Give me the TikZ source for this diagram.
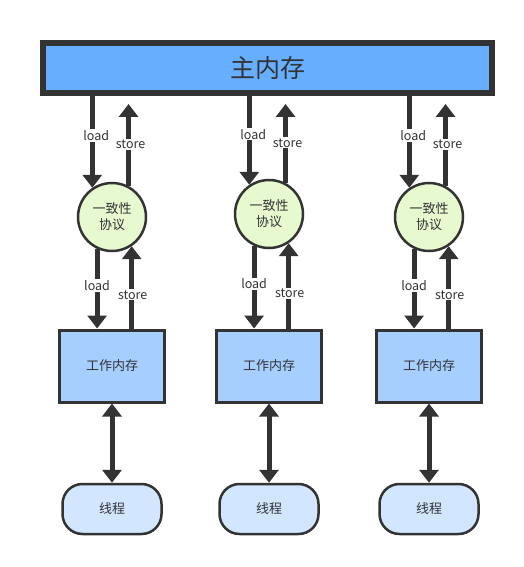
\documentclass[tikz,border=0pt]{standalone}
\usepackage{fontspec}
\setmainfont{Noto Sans CJK SC}
\usetikzlibrary{arrows.meta}

\definecolor{memblue}{HTML}{66AEFF}
\definecolor{workblue}{HTML}{A6CEFF}
\definecolor{threadblue}{HTML}{D2E7FF}
\definecolor{protogreen}{HTML}{E6F9CF}
\definecolor{edgegray}{HTML}{333333}

\tikzset{
	membox/.style={draw=edgegray, line width=6pt, fill=memblue, text=edgegray,
		minimum width=449pt, minimum height=50pt, font=\fontsize{25}{28}\selectfont},
	workbox/.style={draw=edgegray, line width=3pt, fill=workblue, text=edgegray,
		minimum width=105pt, minimum height=72pt, font=\fontsize{13}{15}\selectfont},
	protocol/.style={circle, draw=edgegray, line width=2.5pt, fill=protogreen, text=edgegray,
		minimum size=68pt, inner sep=0pt, align=center, font=\fontsize{13}{16}\selectfont},
	thread/.style={draw=edgegray, line width=2.5pt, rounded corners=20pt, fill=threadblue, text=edgegray,
		minimum width=99pt, minimum height=50pt, font=\fontsize{13}{15}\selectfont},
	link/.style={draw=edgegray, line width=5pt, -{Triangle[width=19pt,length=13pt]}},
	twoway/.style={link, {Triangle[width=19pt,length=13pt]}-{Triangle[width=19pt,length=13pt]}},
	tag/.style={fill=white, text=edgegray, inner sep=1pt, font=\fontsize{12.5}{14}\selectfont}
}

\begin{document}
\begin{tikzpicture}[x=1pt, y=-1pt]
\useasboundingbox (0,0) rectangle (524,567);

\node[membox] (mem) at (267.5,68) {主内存};

\foreach \i/\cx/\cy in {1/112/217, 2/269/214, 3/429/217} {
	\node[protocol] (p\i) at (\cx,\cy) {一致性\\协议};
	\node[workbox] (w\i) at (\cx,366) {工作内存};
	\node[thread] (t\i) at (\cx,509) {线程};
	% main memory and protocol
	\draw[link] (mem.south -| p\i.124) -- node[tag, pos=.43, xshift=4pt] {load} (p\i.124);
	\draw[link, shorten >=8pt] (p\i.62) -- node[tag, pos=.46, xshift=2pt] {store} (p\i.62 |- mem.south);
	% protocol and working memory
	\draw[link] (p\i.-115) -- node[tag, pos=.46] {load} (p\i.-115 |- w\i.north);
	\draw[link] (w\i.north -| p\i.-56) -- node[tag, pos=.41, xshift=1pt] {store} (p\i.-56);
	% working memory and thread
	\draw[twoway] (w\i) -- (t\i);
}
\end{tikzpicture}
\end{document}
